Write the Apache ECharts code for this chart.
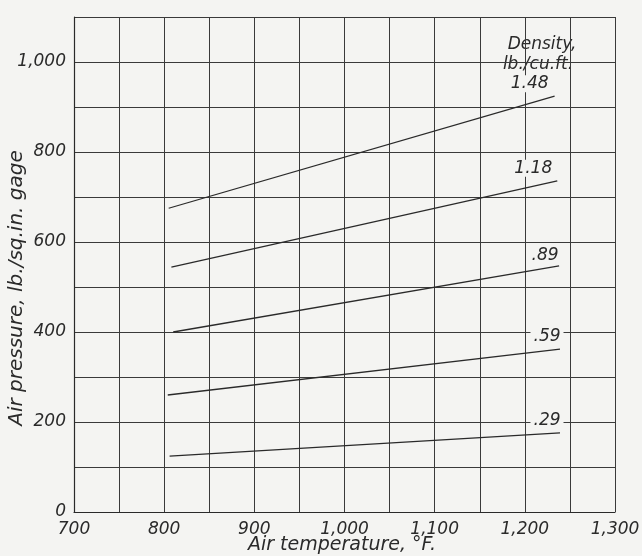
<!DOCTYPE html>
<html>
<head>
<meta charset="utf-8">
<script src="https://cdn.jsdelivr.net/npm/echarts@6/dist/echarts.min.js"></script>
<style>
html,body{margin:0;padding:0;background:#f4f4f2;}
#c{width:642px;height:556px;}
</style>
</head>
<body>
<div id="c"></div>
<script>
var densities = ['1.48', '1.18', '.89', '.59', '.29'];
var startTemps = [805, 808, 810, 804, 806];
var endTemps = [1233, 1236, 1238, 1239, 1239];
var startPressures = [675, 544, 400, 260, 124];
var endPressures = [924, 736, 547, 362, 176];
var xTickLabels = ['700', '800', '900', '1,000', '1,100', '1,200', '1,300'];
var yTickLabels = ['0', '200', '400', '600', '800', '1,000'];
var headerLines = ['Density,', 'lb./cu.ft.'];
var xTitle = 'Air temperature, °F.';
var yTitle = 'Air pressure, lb./sq.in. gage';

var FONT = 'DejaVu Sans';
var INK = '#2a2a2a';
var BG = '#f4f4f2';
var labelOffsets = [[-25, 0], [-24, 0], [-14, 2], [-13, 0], [-13, 0]];

var series = densities.map(function (d, i) {
  return {
    type: 'line',
    name: d,
    symbol: 'circle',
    symbolSize: 0,
    showSymbol: true,
    silent: true,
    lineStyle: { color: INK, width: 1.3 },
    itemStyle: { color: INK },
    data: [
      { value: [startTemps[i], startPressures[i]], label: { show: false } },
      {
        value: [endTemps[i], endPressures[i]],
        label: {
          show: true,
          formatter: d,
          position: 'top',
          distance: 4,
          offset: labelOffsets[i],
          fontFamily: FONT,
          fontStyle: 'italic',
          fontSize: 17,
          color: INK,
          backgroundColor: BG,
          padding: [0, 3, 0, 3]
        }
      }
    ]
  };
});

var chart = echarts.init(document.getElementById('c'));
chart.setOption({
  backgroundColor: BG,
  animation: false,
  grid: { left: 74, right: 27, top: 17, bottom: 44, containLabel: false, outerBoundsMode: 'none' },
  xAxis: {
    type: 'value', min: 700, max: 1300, interval: 50,
    axisLine: { show: true, lineStyle: { color: INK, width: 1.2 } },
    axisTick: { show: false },
    splitLine: { show: true, lineStyle: { color: '#3a3a3a', width: 1 } },
    axisLabel: {
      fontFamily: FONT, fontStyle: 'italic', fontSize: 17, color: INK, margin: 9,
      formatter: function (v) {
        if (v % 100 !== 0) return '';
        return xTickLabels[(v - 700) / 100];
      }
    }
  },
  yAxis: {
    type: 'value', min: 0, max: 1100, interval: 100,
    axisLine: { show: true, lineStyle: { color: INK, width: 1.2 } },
    axisTick: { show: false },
    splitLine: { show: true, lineStyle: { color: '#3a3a3a', width: 1 } },
    axisLabel: {
      fontFamily: FONT, fontStyle: 'italic', fontSize: 17, color: INK, margin: 8,
      formatter: function (v) {
        if (v % 200 !== 0 || v > 1000) return '';
        return yTickLabels[v / 200];
      }
    }
  },
  graphic: [{
    type: 'text',
    x: 17, y: 288,
    rotation: Math.PI / 2,
    style: {
      text: yTitle,
      font: 'italic 20px "DejaVu Sans"',
      fill: INK,
      textAlign: 'center',
      textVerticalAlign: 'middle'
    }
  }, {
    type: 'text',
    x: 342, y: 545,
    style: {
      text: xTitle,
      font: 'italic 19px "DejaVu Sans"',
      fill: INK,
      textAlign: 'center',
      textVerticalAlign: 'middle'
    }
  }, {
    type: 'text',
    x: 542, y: 45,
    style: {
      text: headerLines[0],
      font: 'italic 17px "DejaVu Sans"',
      fill: INK, textAlign: 'center', textVerticalAlign: 'middle',
      backgroundColor: BG, padding: [0, 3, 0, 3]
    }
  }, {
    type: 'text',
    x: 538, y: 65,
    style: {
      text: headerLines[1],
      font: 'italic 17px "DejaVu Sans"',
      fill: INK, textAlign: 'center', textVerticalAlign: 'middle',
      backgroundColor: BG, padding: [0, 3, 0, 3]
    }
  }],
  series: series
});
</script>
</body>
</html>
